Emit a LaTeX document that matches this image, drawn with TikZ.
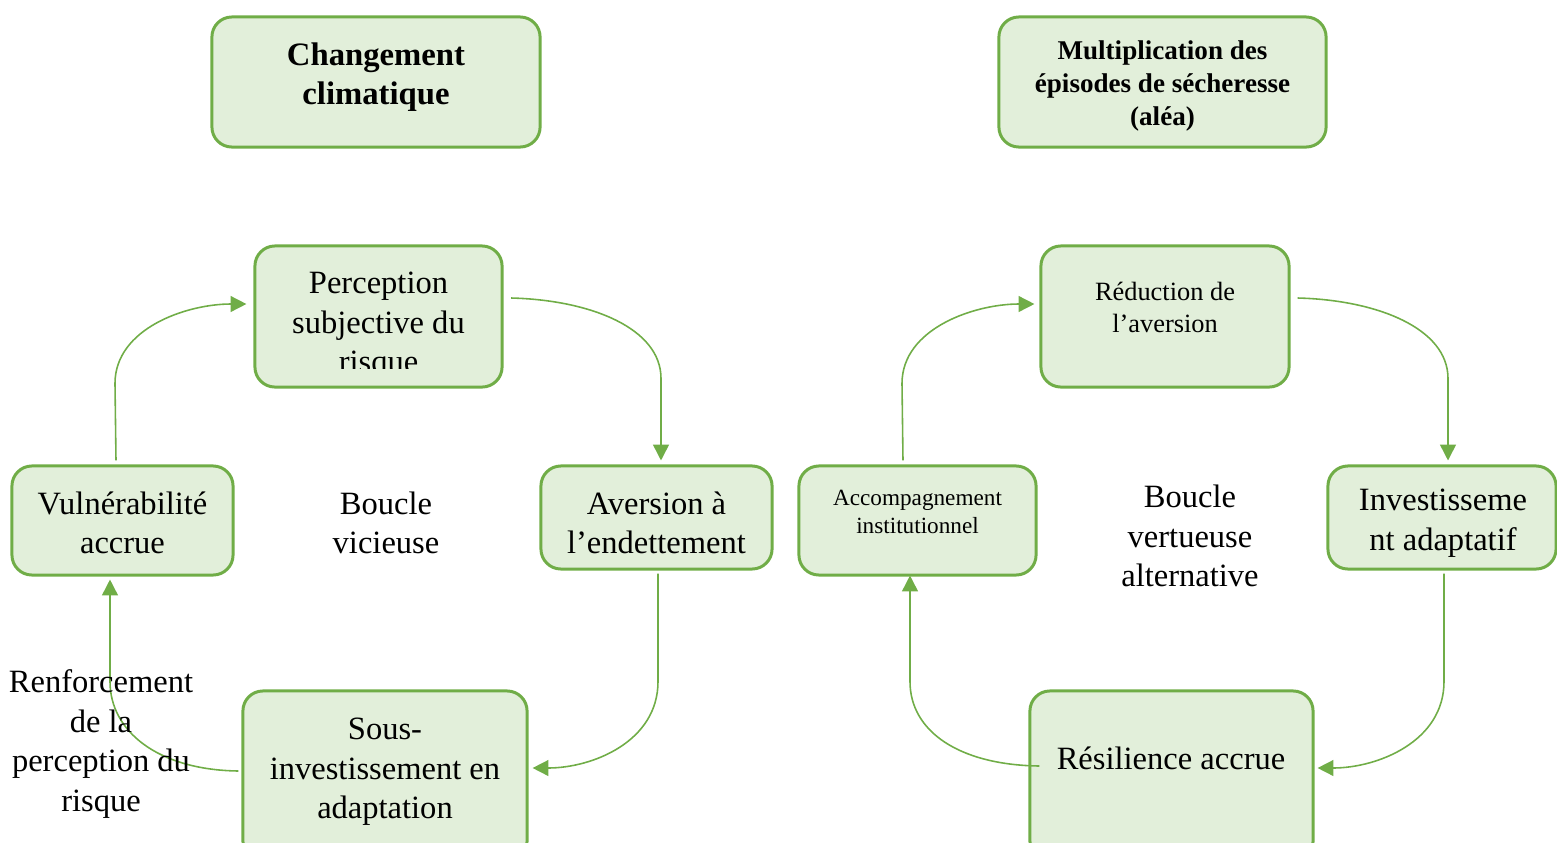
\documentclass[tikz,border=0pt]{standalone}
\usepackage{fontspec}
\setmainfont{Liberation Serif}
\usetikzlibrary{arrows.meta,calc}
\definecolor{gline}{HTML}{70AD47}
\definecolor{gfill}{HTML}{E2EFDA}
\tikzset{
 box/.style={draw=gline, fill=gfill, line width=0.85pt, rounded corners=0.2cm, inner sep=0pt},
 txt/.style={align=center, inner sep=0pt, font=\fontsize{9.25}{11.2}\selectfont},
 txtsm/.style={align=center, inner sep=0pt, font=\fontsize{7.5}{9.1}\selectfont},
 txtxs/.style={align=center, inner sep=0pt, font=\fontsize{6.6}{8.2}\selectfont},
 conn/.style={draw=gline, line width=0.45pt, -{Triangle[length=4.5pt,width=4.5pt]}},
}
\begin{document}
\begin{tikzpicture}[x=0.01cm,y=-0.01cm]
\useasboundingbox (0,0) rectangle (1557,842);
% boxes
\node[box, minimum width=3.28cm, minimum height=1.30cm] (chg) at (376,82) {};
\node[box, minimum width=3.27cm, minimum height=1.30cm] (mult) at (1162.5,82) {};
\node[box, minimum width=2.47cm, minimum height=1.41cm] (perc) at (378.5,316.5) {};
\node[box, minimum width=2.48cm, minimum height=1.41cm] (redu) at (1165,316.5) {};
\node[box, minimum width=2.21cm, minimum height=1.09cm] (vul) at (122.5,520.5) {};
\node[box, minimum width=2.31cm, minimum height=1.03cm] (aver) at (656.5,517.5) {};
\node[box, minimum width=2.37cm, minimum height=1.09cm] (acc) at (917.5,520.5) {};
\node[box, minimum width=2.28cm, minimum height=1.03cm] (inv) at (1442,517.5) {};
\node[box, minimum width=2.84cm, minimum height=1.70cm] (sous) at (385,776) {};
\node[box, minimum width=2.83cm, minimum height=1.70cm] (res) at (1171.5,776) {};
% texts
\node[txt, font=\fontsize{9.3}{11.3}\selectfont\bfseries] (chgT) at (376,77) {Changement\\climatique};
\node[txtsm, font=\fontsize{7.7}{9.3}\selectfont\bfseries] (multT) at (1162.5,86) {Multiplication des\\épisodes de sécheresse\\(aléa)};
\begin{scope}
\clip (255,246) rectangle (502,368);
\node[txt] (percT) at (378.5,326) {Perception\\subjective du\\risque};
\end{scope}
\node[txtsm] (reduT) at (1165,307) {Réduction de\\l’aversion};
\node[txt] (vulT) at (122.5,523) {Vulnérabilité\\accrue};
\node[txt] (averT) at (656.5,523) {Aversion à\\l’endettement};
\node[txtxs] (accT) at (917.5,512) {Accompagnement\\institutionnel};
\node[txt] (invT) at (1443,523) {Investisseme\\nt adaptatif};
\node[txt] (sousT) at (385,772) {Sous-\\investissement en\\adaptation};
\node[txt] (resT) at (1171,758) {Résilience accrue};
\node[txt] (bvic) at (386,523) {Boucle\\vicieuse};
\node[txt] (bver) at (1190,536) {Boucle\\vertueuse\\alternative};
% connectors
\coordinate (a1s) at ($(vul.north)+(-6.5,-4)$);
\coordinate (a1e) at ($(perc.west)+(-7,-12.5)$);
\draw[conn] (a1s) -- ++(-1,-77) .. controls +(0,-55) and +(-60,0) .. (a1e);
\coordinate (a2s) at ($(perc.east)+(7.5,-18.5)$);
\coordinate (a2e) at ($(aver.north)+(4.5,-4)$);
\draw[conn] (a2s) .. controls +(80,2) and +(0,-50) .. ($(a2e)+(0,-82)$) -- (a2e);
\coordinate (a3s) at ($(aver.south)+(1.5,3)$);
\coordinate (a3e) at ($(sous.east)+(4,-8)$);
\draw[conn] (a3s) -- ++(0,108) .. controls +(0,60) and +(60,0) .. (a3e);
\coordinate (a4s) at ($(sous.west)+(-3,-5)$);
\coordinate (a4e) at ($(vul.south)+(-12.5,3)$);
\draw[conn] (a4s) .. controls +(-80,-1) and +(0,50) .. ($(a4e)+(0,102)$) -- (a4e);
\coordinate (b1s) at ($(acc.north)+(-14.5,-4)$);
\coordinate (b1e) at ($(redu.west)+(-5,-12.5)$);
\draw[conn] (b1s) -- ++(-1,-77) .. controls +(0,-55) and +(-60,0) .. (b1e);
\coordinate (b2s) at ($(redu.east)+(7,-18.5)$);
\coordinate (b2e) at ($(inv.north)+(6,-4)$);
\draw[conn] (b2s) .. controls +(80,2) and +(0,-50) .. ($(b2e)+(0,-82)$) -- (b2e);
\coordinate (b3s) at ($(inv.south)+(2,3)$);
\coordinate (b3e) at ($(res.east)+(3,-8)$);
\draw[conn] (b3s) -- ++(0,108) .. controls +(0,60) and +(60,0) .. (b3e);
\coordinate (b4s) at ($(res.west)+(11,-10)$);
\coordinate (b4e) at ($(acc.south)+(-7.5,-1)$);
\draw[conn] (b4s) .. controls +(-80,-1) and +(0,50) .. ($(b4e)+(0,106)$) -- (b4e);
% label over connector
\node[txt] (renf) at (101,744) {Renforcement\\de la\\perception du\\risque};
\end{tikzpicture}
\end{document}
